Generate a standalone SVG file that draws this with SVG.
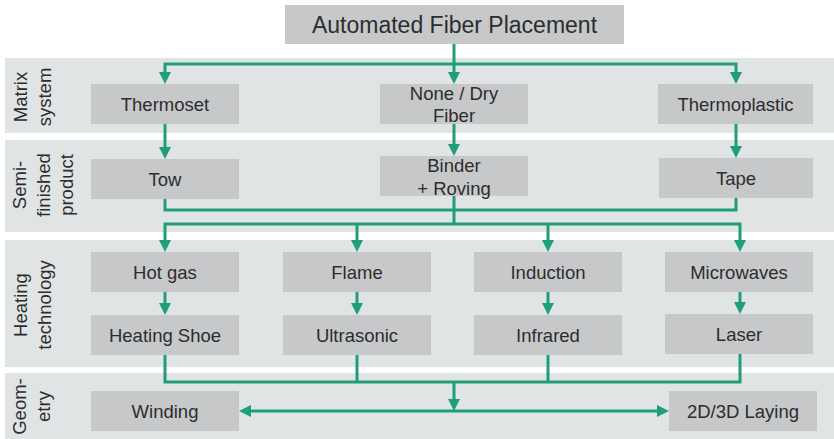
<svg xmlns="http://www.w3.org/2000/svg" width="834" height="439" viewBox="0 0 834 439">
  <style>
    .band { fill: #e1e4e5; }
    .node rect { fill: #c6c8ca; }
    text { font-family: "Liberation Sans", Arial, sans-serif; font-size: 18.5px; fill: #2d2d2d; }
    .node text { text-anchor: middle; }
    .label text { text-anchor: middle; }
    .title text { font-size: 23px; }
    .wire { fill: none; stroke: #1f9e78; stroke-width: 3; stroke-linejoin: miter; }
    .arrow { marker-end: url(#head); }
    .both { marker-start: url(#head); marker-end: url(#head); }
  </style>
  <defs>
    <marker id="head" markerUnits="userSpaceOnUse" markerWidth="12" markerHeight="12" refX="4" refY="6" orient="auto-start-reverse">
      <path d="M0,0 L12,6 L0,12 Z" fill="#1f9e78"/>
    </marker>
  </defs>

  <!-- background bands -->
  <rect class="band" x="5" y="58" width="829" height="75"/>
  <rect class="band" x="5" y="140" width="829" height="92"/>
  <rect class="band" x="5" y="240" width="829" height="127"/>
  <rect class="band" x="5" y="373" width="829" height="66"/>

  <!-- band labels -->
  <g id="label-matrix" class="label">
    <text transform="translate(27,97) rotate(-90)"><tspan x="0" y="0">Matrix</tspan><tspan x="0" y="23.5">system</tspan></text>
  </g>
  <g id="label-semi" class="label">
    <text transform="translate(26,185) rotate(-90)"><tspan x="0" y="0">Semi-</tspan><tspan x="0" y="23.5">finished</tspan><tspan x="0" y="47">product</tspan></text>
  </g>
  <g id="label-heating" class="label">
    <text transform="translate(27,305) rotate(-90)"><tspan x="0" y="0">Heating</tspan><tspan x="0" y="23.5">technology</tspan></text>
  </g>
  <g id="label-geometry" class="label">
    <text transform="translate(26,406.5) rotate(-90)"><tspan x="0" y="0">Geom-</tspan><tspan x="0" y="23.5">etry</tspan></text>
  </g>

  <!-- connectors -->
  <g id="connectors">
    <path class="wire arrow" d="M454,44 V76"/>
    <path class="wire both" d="M165,76 V64 H736 V76"/>
    <path class="wire arrow" d="M165,124 V151"/>
    <path class="wire arrow" d="M454,124 V148"/>
    <path class="wire arrow" d="M736,124 V150"/>
    <path class="wire" d="M165,199 V210 H736 V198"/>
    <path class="wire" d="M454,196 V224"/>
    <path class="wire both" d="M165,244 V224 H740 V244"/>
    <path class="wire arrow" d="M357,224 V244"/>
    <path class="wire arrow" d="M548,224 V244"/>
    <path class="wire arrow" d="M165,292 V307"/>
    <path class="wire arrow" d="M357,292 V307"/>
    <path class="wire arrow" d="M548,292 V307"/>
    <path class="wire arrow" d="M740,292 V306"/>
    <path class="wire" d="M165,355 V382 H740 V354"/>
    <path class="wire" d="M357,355 V382"/>
    <path class="wire" d="M548,355 V382"/>
    <path class="wire arrow" d="M454,382 V403"/>
    <path class="wire both" d="M247,411 H661"/>
  </g>

  <!-- nodes -->
  <g id="node-afp" class="node title">
    <rect x="285" y="5" width="339" height="39"/>
    <text x="454.5" y="33">Automated Fiber Placement</text>
  </g>
  <g id="node-thermoset" class="node">
    <rect x="91" y="84" width="148" height="40"/>
    <text x="165" y="110.5">Thermoset</text>
  </g>
  <g id="node-dry" class="node">
    <rect x="380" y="84" width="148" height="40"/>
    <text x="454"><tspan x="454" y="100">None / Dry</tspan><tspan x="454" y="122">Fiber</tspan></text>
  </g>
  <g id="node-thermoplastic" class="node">
    <rect x="658" y="84" width="155" height="40"/>
    <text x="735.5" y="110.5">Thermoplastic</text>
  </g>
  <g id="node-tow" class="node">
    <rect x="91" y="159" width="148" height="40"/>
    <text x="165" y="185.5">Tow</text>
  </g>
  <g id="node-binder" class="node">
    <rect x="380" y="156" width="148" height="40"/>
    <text x="454"><tspan x="454" y="171.5">Binder</tspan><tspan x="454" y="194.5">+ Roving</tspan></text>
  </g>
  <g id="node-tape" class="node">
    <rect x="659" y="158" width="154" height="40"/>
    <text x="736" y="184.5">Tape</text>
  </g>
  <g id="node-hotgas" class="node">
    <rect x="91" y="252" width="148" height="40"/>
    <text x="165" y="278.5">Hot gas</text>
  </g>
  <g id="node-flame" class="node">
    <rect x="283" y="252" width="148" height="40"/>
    <text x="357" y="278.5">Flame</text>
  </g>
  <g id="node-induction" class="node">
    <rect x="474" y="252" width="148" height="40"/>
    <text x="548" y="278.5">Induction</text>
  </g>
  <g id="node-microwaves" class="node">
    <rect x="665" y="252" width="148" height="40"/>
    <text x="739" y="278.5">Microwaves</text>
  </g>
  <g id="node-shoe" class="node">
    <rect x="91" y="315" width="148" height="40"/>
    <text x="165" y="341.5">Heating Shoe</text>
  </g>
  <g id="node-ultrasonic" class="node">
    <rect x="283" y="315" width="148" height="40"/>
    <text x="357" y="341.5">Ultrasonic</text>
  </g>
  <g id="node-infrared" class="node">
    <rect x="474" y="315" width="148" height="40"/>
    <text x="548" y="341.5">Infrared</text>
  </g>
  <g id="node-laser" class="node">
    <rect x="665" y="314" width="148" height="40"/>
    <text x="739" y="340.5">Laser</text>
  </g>
  <g id="node-winding" class="node">
    <rect x="91" y="391" width="148" height="40"/>
    <text x="165" y="417.5">Winding</text>
  </g>
  <g id="node-laying" class="node">
    <rect x="669" y="391" width="148" height="40"/>
    <text x="743" y="417.5">2D/3D Laying</text>
  </g>
</svg>
